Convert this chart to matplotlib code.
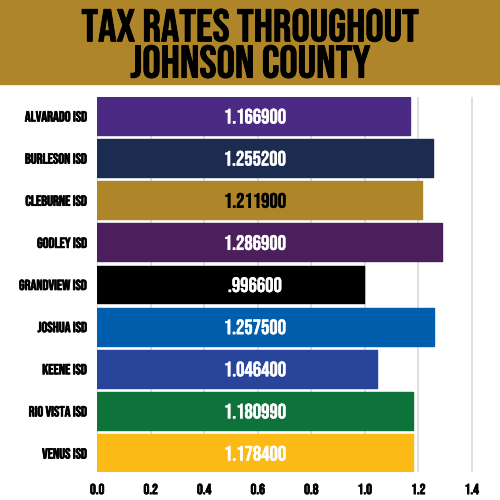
import matplotlib
matplotlib.use("Agg")
import matplotlib.pyplot as plt
import matplotlib.patheffects as pe

districts = ["ALVARADO ISD", "BURLESON ISD", "CLEBURNE ISD", "GODLEY ISD",
             "GRANDVIEW ISD", "JOSHUA ISD", "KEENE ISD", "RIO VISTA ISD", "VENUS ISD"]
rates = [1.1669, 1.2552, 1.2119, 1.2869, 0.9966, 1.2575, 1.0464, 1.18099, 1.1784]
rate_labels = ["1.166900", "1.255200", "1.211900", "1.286900", ".996600",
               "1.257500", "1.046400", "1.180990", "1.178400"]
bar_colors = ["#4B2A84", "#1C2B50", "#AE8629", "#4A1F5C", "#000000",
              "#005EAD", "#28449B", "#0E733A", "#FBBA16"]
label_colors = ["white", "white", "black", "white", "white",
                "white", "white", "white", "white"]
x_ticks = [0.0, 0.2, 0.4, 0.6, 0.8, 1.0, 1.2, 1.4]
title = "TAX RATES THROUGHOUT\nJOHNSON COUNTY"

FONT = ["Bebas Neue", "DejaVu Sans"]
plt.rcParams["font.family"] = FONT

fig = plt.figure(figsize=(5, 5), dpi=100)
fig.patch.set_facecolor("white")

# header band
fig.patches.append(plt.Rectangle((0, 1 - 84 / 500), 1, 84 / 500,
                                 transform=fig.transFigure, color="#AE8629", zorder=0))
fig.text(0.5, 1 - 43 / 500, title, ha="center", va="center", fontsize=33,
         color="black", linespacing=1.1,
         path_effects=[pe.withStroke(linewidth=0.6, foreground="black")])

ax = fig.add_axes([97.3 / 500, 1 - 472 / 500, (480 - 97.3) / 500, 375 / 500])
y = list(range(len(districts)))
ax.barh(y, rates, height=0.9, color=bar_colors, edgecolor=bar_colors,
        linewidth=1.0, joinstyle="round", zorder=2)
for yi, lab, c in zip(y, rate_labels, label_colors):
    ax.text(0.59, yi, lab, ha="center", va="center", fontsize=15,
            color=c, zorder=3,
            path_effects=[pe.withStroke(linewidth=0.3, foreground=c)])

ax.set_xlim(0, (480 - 97.3) / 267.6)
ax.set_ylim(len(districts) - 0.55, -0.45)
ax.set_yticks(y)
ax.set_yticklabels(districts, fontsize=10.5)
ax.set_xticks(x_ticks)
ax.set_xticklabels([f"{t:.1f}" for t in x_ticks], fontsize=10.5)
for t in ax.get_yticklabels() + ax.get_xticklabels():
    t.set_path_effects([pe.withStroke(linewidth=0.5, foreground="black")])
ax.tick_params(axis="y", length=0, pad=7)
ax.tick_params(axis="x", length=0, pad=8)
ax.grid(axis="x", color="#D9D9D9", linewidth=1.2, zorder=0)
ax.set_axisbelow(True)
for s in ax.spines.values():
    s.set_visible(False)

fig.savefig("out.png", dpi=100)
